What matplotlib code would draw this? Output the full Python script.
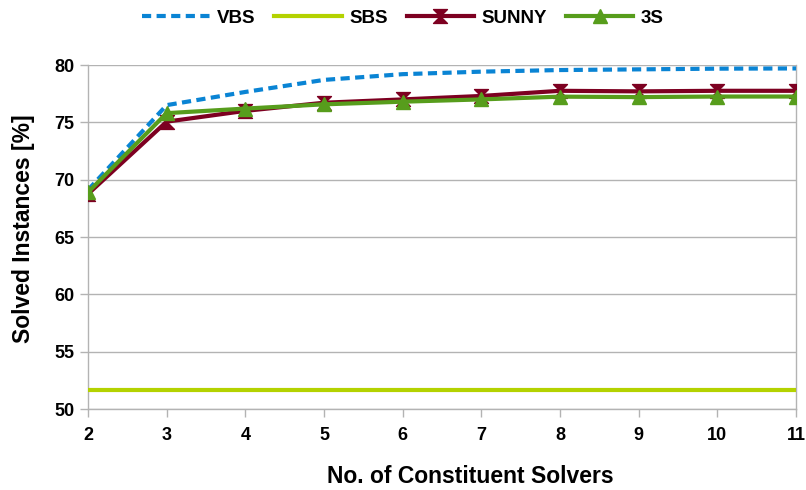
import matplotlib
matplotlib.use("Agg")
import matplotlib.pyplot as plt
from matplotlib.path import Path

solvers = [2, 3, 4, 5, 6, 7, 8, 9, 10, 11]
vbs = [69.1, 76.5, 77.65, 78.7, 79.2, 79.42, 79.56, 79.62, 79.68, 79.7]
sbs = [51.7] * 10
sunny = [68.75, 75.06, 76.0, 76.71, 77.0, 77.3, 77.75, 77.7, 77.75, 77.75]
s3 = [68.9, 75.8, 76.2, 76.57, 76.8, 77.0, 77.24, 77.2, 77.25, 77.25]
yticks = [50, 55, 60, 65, 70, 75, 80]

plt.rcParams['font.family'] = ['Liberation Sans', 'DejaVu Sans']
plt.rcParams['font.weight'] = 'bold'

fig = plt.figure(figsize=(8.06, 4.9), dpi=100)
ax = fig.add_axes([88/806, 1-409/490, (796-88)/806, (409-65)/490])

hourglass = Path([(-1, 1), (1, 1), (0, 0), (1, -1), (-1, -1), (0, 0), (-1, 1)],
                 [Path.MOVETO, Path.LINETO, Path.LINETO, Path.LINETO, Path.LINETO, Path.LINETO, Path.CLOSEPOLY])

ax.plot(solvers, vbs, color='#0a84d4', lw=3, ls=(0, (2.2, 1.3)), label='VBS', zorder=3)
ax.plot(solvers, sbs, color='#b4d200', lw=3, label='SBS', zorder=3)
ax.plot(solvers, sunny, color='#7d0021', lw=3, marker=hourglass, ms=10, label='SUNNY', zorder=4)
ax.plot(solvers, s3, color='#579d1c', lw=3, marker='^', ms=10, label='3S', zorder=5)

ax.set_xlim(2, 11)
ax.set_ylim(50, 80)
ax.set_xticks(solvers)
ax.set_yticks(yticks)
ax.grid(axis='y', color='#b3b3b3', lw=1)
ax.set_axisbelow(True)
for s in ['left', 'right', 'bottom']:
    ax.spines[s].set_color('#b3b3b3')
    ax.spines[s].set_linewidth(1)
ax.spines['top'].set_visible(False)
ax.tick_params(axis='both', colors='#b3b3b3', length=6, width=1, labelcolor='black', labelsize=13)
ax.tick_params(axis='x', pad=7)
ax.tick_params(axis='y', pad=4)

ax.set_xlabel('No. of Constituent Solvers', fontsize=16.5, fontweight='bold')
ax.set_ylabel('Solved Instances [%]', fontsize=16.5, fontweight='bold')
ax.xaxis.set_label_coords((470 - 88) / 708, (409 - 465) / 344)
ax.yaxis.set_label_coords((35 - 88) / 708, (409 - 229) / 344)

fig.legend(loc='upper center', bbox_to_anchor=(0.5, 1.015), ncol=4, frameon=False,
           fontsize=13.5, handlelength=3.6, columnspacing=1.0, handletextpad=0.4)

fig.savefig('out.png', dpi=100)
